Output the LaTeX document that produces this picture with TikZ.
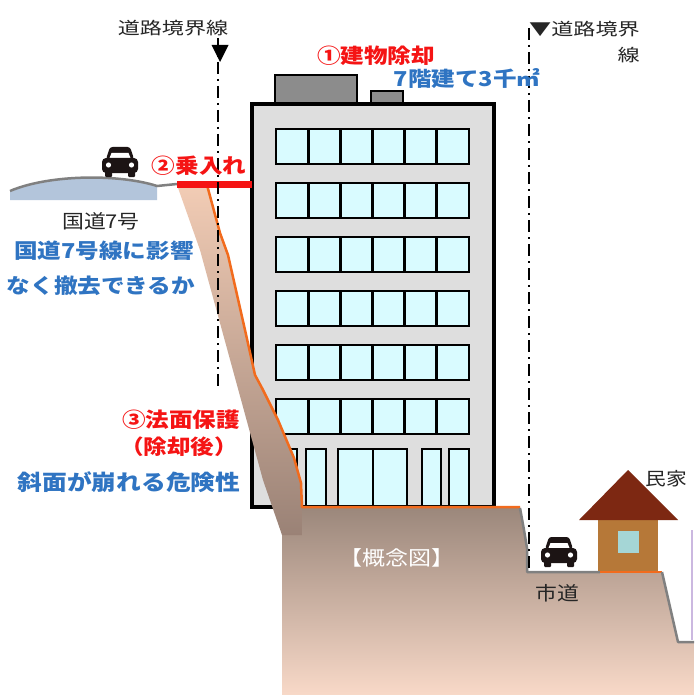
\documentclass[tikz,border=0pt]{standalone}
\usepackage{fontspec}
\newfontfamily\jp{Noto Sans CJK JP}[FakeStretch=1.15]
\newfontfamily\jpw{Noto Sans CJK JP}[FakeStretch=1.3]
\definecolor{gtop}{HTML}{9B877B}
\definecolor{gbot}{HTML}{F8D9C8}
\definecolor{stop}{HTML}{F2CCB5}
\definecolor{sbot}{HTML}{9A8276}
\definecolor{edgeorange}{HTML}{F26B1D}
\definecolor{winfill}{HTML}{D9FBFF}
\definecolor{bldgfill}{HTML}{DEDEDE}
\definecolor{roofgray}{HTML}{8C8C8C}
\definecolor{roadblue}{HTML}{B3C5DB}
\definecolor{roadgray}{HTML}{808080}
\definecolor{notered}{HTML}{F51414}
\definecolor{noteblue}{HTML}{2F74C2}
\definecolor{houseroof}{HTML}{7D2812}
\definecolor{housebody}{HTML}{B67838}
\definecolor{housewin}{HTML}{A5D6D6}
\definecolor{carblack}{HTML}{1C1414}
\definecolor{lavender}{HTML}{CBB8E0}
\begin{document}
\begin{tikzpicture}[x=1pt,y=-1pt,
  bldg/.style={draw=black, line width=3.5pt, fill=bldgfill},
  roofbox/.style={draw=black, line width=2.5pt, fill=roofgray},
  win/.style={draw=black, line width=2.8pt, fill=winfill},
  edgeline/.style={draw=edgeorange, line width=2.5pt, line join=round},
  grayedge/.style={draw=roadgray, line width=2.5pt, line join=round},
  boundary/.style={draw=black, line width=1.4pt, dash pattern=on 12pt off 5pt on 2pt off 5pt},
  lbl/.style={inner sep=0pt, anchor=center},
  redtxt/.style={lbl, text=notered, font=\jp\bfseries\fontsize{20.5}{24}\selectfont},
  bluetxt/.style={lbl, text=noteblue, font=\jp\bfseries\fontsize{20.5}{24}\selectfont},
  blacktxt/.style={lbl, text=black!85, font=\jp\fontsize{19}{24}\selectfont},
  car/.pic={
    \fill[carblack, rounded corners=2.5pt] (-10,-15) -- (10,-15) -- (14,-3) -- (-14,-3) -- cycle;
    \fill[white] (-8.5,-9) -- (8.5,-9) -- (10.5,-4) -- (-10.5,-4) -- cycle;
    \fill[carblack, rounded corners=4pt] (-18,-4) rectangle (18,11);
    \fill[white] (-11.5,3) circle (2.6) (11.5,3) circle (2.6);
    \fill[carblack, rounded corners=1pt] (-15,9) rectangle (-8,15) (8,9) rectangle (15,15);
  }]
\useasboundingbox (0,0) rectangle (694,695);
\fill[white] (0,0) rectangle (694,695);

% rooftop structures
\draw[roofbox] (275,75) rectangle (357,105);
\draw[roofbox] (371,91) rectangle (403,105);
% building body
\draw[bldg] (252,104) rectangle (494,507);
% upper floor windows: six floors of six panes
\foreach \r in {0,...,5}{
  \foreach \c in {0,...,5}{
    \draw[win] ({276+\c*32.17},{129+\r*54}) rectangle ++(32.17,35);
  }
}
% ground floor glazing
\foreach \a/\b in {278/297, 306/326, 338/373, 373/407, 422/441, 449/469}
  \draw[win] (\a,449) rectangle (\b,506);

% ground mass below the site and the municipal road
\shade[top color=gtop, bottom color=gbot]
  (282,507) -- (520,507) -- (524,530) -- (527,548) -- (527,572) -- (662,572)
  -- (678,642) -- (694,642) -- (694,695) -- (282,695) -- cycle;
% cut slope face
\shade[top color=stop, bottom color=sbot]
  (177,185) -- (207,185) -- (220,233) -- (228,255) -- (245,330) -- (255,375)
  -- (262,388) -- (278,420) -- (294,458) -- (301,483) -- (302,507) -- (302,535)
  -- (282,535) -- (263,480) -- (200,250) -- cycle;
\draw[edgeline] (207,185) -- (220,233) -- (228,255) -- (245,330) -- (255,375)
  -- (262,388) -- (278,420) -- (294,458) -- (301,483) -- (302,507) -- (520,507);

% retaining wall and municipal road surface
\draw[grayedge] (520,508) -- (524,530) -- (527,548) -- (527,572) -- (600,572);
\draw[edgeline] (600,572) -- (662,572);
\draw[grayedge] (662,572) -- (678,642) -- (694,642);
\draw[lavender, line width=2pt] (692,530) -- (692,640);

% national route 7
\fill[roadblue] (10,191) .. controls (50,174) and (120,174) .. (157,186) -- (157,200) -- (10,200) -- cycle;
\draw[roadgray, line width=2.5pt] (10,191) .. controls (50,174) and (120,174) .. (157,186) -- (177,184);
\draw[notered, line width=7pt] (177,184) -- (252,184);

% private house
\fill[housebody] (598,520) rectangle (658,571);
\fill[housewin] (618,531) rectangle (639,553);
\fill[houseroof] (579,520) -- (628,470) -- (678,520) -- cycle;

% cars
\pic at (120,162) {car};
\pic at (559,552) {car};

% road boundary lines
\coordinate (bndL-top) at (218,38);
\coordinate (bndL-bot) at (218,387);
\coordinate (bndR-top) at (529,28);
\coordinate (bndR-bot) at (529,568);
\draw[boundary] (bndL-top) -- (bndL-bot);
\draw[boundary] (bndR-top) -- (bndR-bot);
\fill[black] (211.5,45) -- (228.5,45) -- (220,62) -- cycle;

% labels
\node[lbl, font=\jpw\fontsize{17}{20}\selectfont, text=black!85] (bndL-lbl) at (173,28) {道路境界線};
\node[lbl, font=\jpw\fontsize{17}{26}\selectfont, text=black!85, align=right, anchor=north west] (bndR-lbl) at (529,21) {▼道路境界\\線};
\node[redtxt] (demolish) at (376,56) {①建物除却};
\node[bluetxt] (floors) at (467,79) {7階建て3千㎡};
\node[redtxt] (entry) at (199,166) {②乗入れ};
\node[blacktxt] (route7) at (101,221) {国道7号};
\node[bluetxt] (q1) at (104,251) {国道7号線に影響};
\node[bluetxt] (q2) at (101,286) {なく撤去できるか};
\node[redtxt] (protect) at (181,420) {③法面保護};
\node[redtxt] (after) at (179,447) {（除却後）};
\node[bluetxt, font=\jp\bfseries\fontsize{21.5}{24}\selectfont] (risk) at (129,482) {斜面が崩れる危険性};
\node[lbl, text=white, font=\jp\fontsize{20}{24}\selectfont] (concept) at (397,558) {【概念図】};
\node[blacktxt] (cityroad) at (557,593) {市道};
\node[blacktxt, font=\jp\fontsize{18}{22}\selectfont] (house) at (666,479) {民家};
\end{tikzpicture}
\end{document}
